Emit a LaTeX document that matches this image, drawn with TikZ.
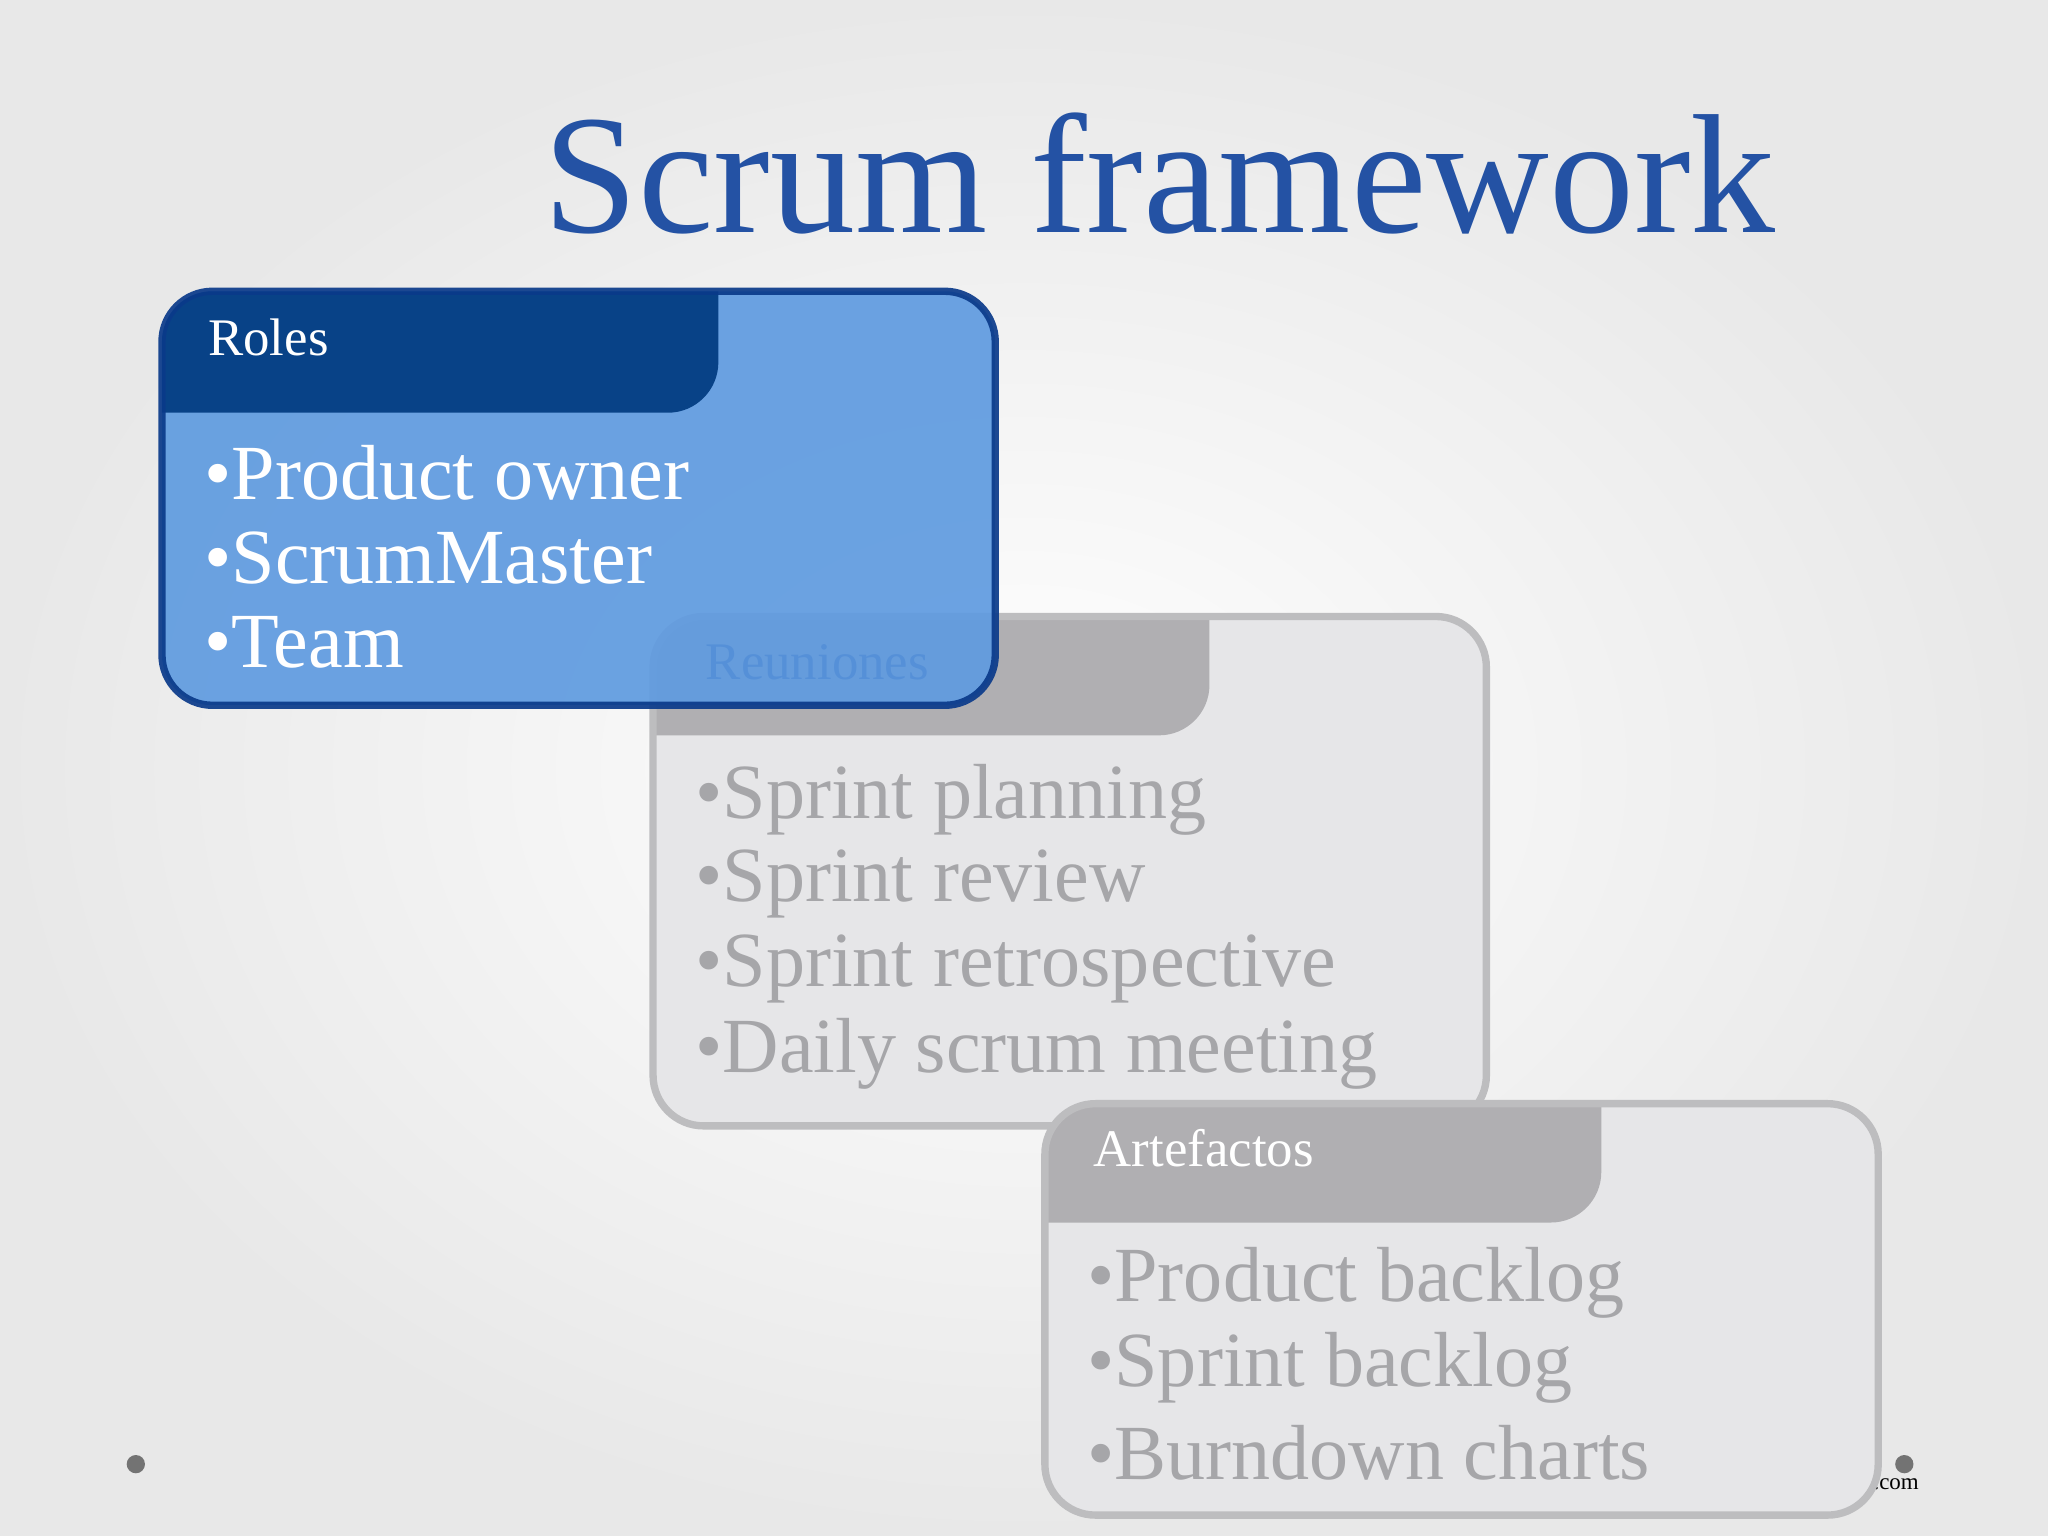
\documentclass[tikz,border=0pt]{standalone}
\usepackage{fontspec}
\setmainfont{Liberation Serif}
\definecolor{titleblue}{HTML}{2452A4}
\definecolor{rolefill}{HTML}{5F9BE0}
\definecolor{rolehead}{HTML}{003A80}
\definecolor{roleborder}{HTML}{0A3A8A}
\definecolor{grayfill}{HTML}{E6E6E8}
\definecolor{grayhead}{HTML}{B0AFB2}
\definecolor{grayborder}{HTML}{BDBDBF}
\definecolor{graytext}{HTML}{A6A6A9}
\definecolor{faintblue}{HTML}{5590D8}
\newcommand{\drawcard}[9]{%
  \begin{scope}
    \clip[rounded corners=11pt] (#1,#2) rectangle (#3,#4);
    \fill[#7] (#1,#2) rectangle (#3,#4);
    \fill[#8,rounded corners=11pt] (#1-60,#2-60) -- (#5,#2-60) -- (#5,#6) -- (#1-60,#6) -- cycle;
  \end{scope}
  \draw[#9,line width=1.6pt,rounded corners=11pt] (#1,#2) rectangle (#3,#4);
}
\tikzset{
  head/.style={anchor=west,font=\fontsize{11.5}{12}\selectfont},
  item/.style={anchor=west,font=\fontsize{17}{18}\selectfont},
}
\begin{document}
\begin{tikzpicture}[x=0.01cm,y=-0.01cm]
\useasboundingbox (0,0) rectangle (1568,1176);
\shade[inner color=white,outer color=black!9] (0,0) rectangle (1568,1176);
\node[font=\fontsize{37}{40}\selectfont,text=titleblue] (title) at (888,133) {Scrum framework};
% Reuniones
\drawcard{500}{472}{1138}{862}{926}{563}{grayfill}{grayhead}{grayborder}
\node[item,text=graytext] (r1) at (520,612) {•Sprint planning};
\node[item,text=graytext] (r2) at (520,677) {•Sprint review};
\node[item,text=graytext] (r3) at (520,742) {•Sprint retrospective};
\node[item,text=graytext] (r4) at (520,807) {•Daily scrum meeting};
% Roles
\begin{scope}[opacity=0.92]
\drawcard{124}{223}{762}{540}{550}{316}{rolefill}{rolehead}{roleborder}
\end{scope}
\node[head,text=faintblue] (reu) at (528,507) {Reuniones};
\node[head,text=white] (roles) at (147,258) {Roles};
\node[item,text=white] (o1) at (144,362) {•Product owner};
\node[item,text=white] (o2) at (144,427) {•ScrumMaster};
\node[item,text=white] (o3) at (144,492) {•Team};
% dots and footer
\fill[black!55] (104,1121) circle (7);
\node[font=\fontsize{5}{6}\selectfont,anchor=west] (com) at (1422,1136) {.com};
% Artefactos
\drawcard{800}{845}{1438}{1160}{1226}{936}{grayfill}{grayhead}{grayborder}
\fill[black!55] (1458,1121) circle (7);
\node[head,text=white] (art) at (825,879) {Artefactos};
\node[item,text=graytext] (a1) at (820,982) {•Product backlog};
\node[item,text=graytext] (a2) at (820,1047) {•Sprint backlog};
\node[item,text=graytext] (a3) at (820,1112) {•Burndown charts};
\end{tikzpicture}
\end{document}
